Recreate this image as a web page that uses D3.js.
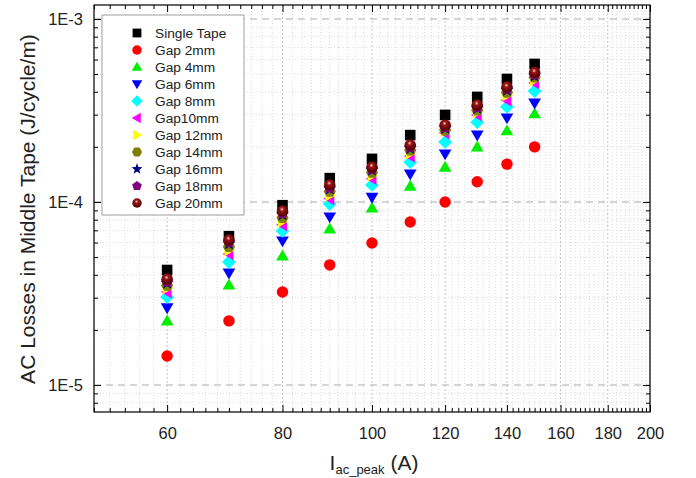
<!DOCTYPE html>
<html>
<head>
<meta charset="utf-8">
<script src="https://cdn.jsdelivr.net/npm/d3@7"></script>
<style>
  body { margin: 0; background: #fff; }
  svg { display: block; font-family: Arial, "Liberation Sans", sans-serif; }
</style>
</head>
<body>
<div id="chart"></div>
<script>
// current values (A)
const currents = [60, 70, 80, 90, 100, 110, 120, 130, 140, 150];

// AC losses (J/cycle/m)
const singleTape = [4.25e-5, 6.5e-5, 9.6e-5, 1.35e-4, 1.72e-4, 2.32e-4, 2.99e-4, 3.75e-4, 4.7e-4, 5.68e-4];
const gap2mm  = [1.44e-5, 2.24e-5, 3.22e-5, 4.53e-5, 5.97e-5, 7.78e-5, 1.0e-4, 1.29e-4, 1.61e-4, 2.0e-4];
const gap4mm  = [2.24e-5, 3.52e-5, 5.07e-5, 7.12e-5, 9.27e-5, 1.22e-4, 1.55e-4, 2.0e-4, 2.45e-4, 3.03e-4];
const gap6mm  = [2.64e-5, 4.09e-5, 6.12e-5, 8.28e-5, 1.06e-4, 1.42e-4, 1.83e-4, 2.32e-4, 2.88e-4, 3.47e-4];
const gap8mm  = [3.03e-5, 4.7e-5, 6.95e-5, 9.75e-5, 1.24e-4, 1.65e-4, 2.13e-4, 2.73e-4, 3.31e-4, 4.04e-4];
const gap10mm = [3.22e-5, 5.2e-5, 7.5e-5, 1.04e-4, 1.34e-4, 1.78e-4, 2.38e-4, 2.99e-4, 3.6e-4, 4.47e-4];
const gap12mm = [3.39e-5, 5.46e-5, 7.87e-5, 1.09e-4, 1.4e-4, 1.85e-4, 2.45e-4, 3.1e-4, 3.84e-4, 4.65e-4];
const gap14mm = [3.5e-5, 5.7e-5, 8.2e-5, 1.14e-4, 1.45e-4, 1.92e-4, 2.47e-4, 3.17e-4, 3.97e-4, 4.8e-4];
const gap16mm = [3.6e-5, 5.9e-5, 8.5e-5, 1.18e-4, 1.49e-4, 1.96e-4, 2.52e-4, 3.24e-4, 4.07e-4, 4.88e-4];
const gap18mm = [3.68e-5, 6.05e-5, 8.7e-5, 1.2e-4, 1.52e-4, 2.0e-4, 2.57e-4, 3.3e-4, 4.15e-4, 4.98e-4];
const gap20mm = [3.79e-5, 6.2e-5, 8.93e-5, 1.24e-4, 1.55e-4, 2.05e-4, 2.63e-4, 3.39e-4, 4.25e-4, 5.1e-4];

const seriesNames = ['Single Tape', 'Gap 2mm', 'Gap 4mm', 'Gap 6mm', 'Gap 8mm', 'Gap10mm',
                     'Gap 12mm', 'Gap 14mm', 'Gap 16mm', 'Gap 18mm', 'Gap 20mm'];
const seriesValues = [singleTape, gap2mm, gap4mm, gap6mm, gap8mm, gap10mm,
                      gap12mm, gap14mm, gap16mm, gap18mm, gap20mm];
const seriesColors = ['#000000', '#ff0000', '#00ee00', '#0000ff', '#00ffff', '#ff00ff',
                      '#ffff00', '#808000', '#000080', '#800080', 'url(#sphere)'];
const seriesShapes = ['square', 'circle', 'up', 'down', 'diamond', 'left',
                      'right', 'hexagon', 'star', 'pentagon', 'circle'];

const xTicks = [60, 80, 100, 120, 140, 160, 180, 200];
const yTicks = [1e-5, 1e-4, 1e-3];

const W = 696, H = 478;
const plot = { left: 94, right: 650, top: 5, bottom: 412 };

const svg = d3.select('#chart').append('svg').attr('width', W).attr('height', H);

const defs = svg.append('defs');
const grad = defs.append('radialGradient').attr('id', 'sphere')
    .attr('cx', '45%').attr('cy', '35%').attr('r', '60%');
grad.append('stop').attr('offset', '0%').attr('stop-color', '#f0c8c8');
grad.append('stop').attr('offset', '30%').attr('stop-color', '#981414');
grad.append('stop').attr('offset', '100%').attr('stop-color', '#520000');

const x = d3.scaleLog().domain([50, 200]).range([plot.left, plot.right]);
const y = d3.scaleLog().domain([7.12e-6, 1.192e-3]).range([plot.bottom, plot.top]);

// minor tick values
const xMinor = d3.range(50, 201, 2).filter(v => !xTicks.includes(v));
const yMinor = [];
[1e-6, 1e-5, 1e-4, 1e-3].forEach(d => {
    for (let m = 2; m <= 9; m++) {
        const v = m * d;
        if (v > y.domain()[0] && v < y.domain()[1]) yMinor.push(v);
    }
});

// grid
const grid = svg.append('g');
grid.selectAll('.gx').data(xMinor).join('line')
    .attr('x1', d => x(d)).attr('x2', d => x(d))
    .attr('y1', plot.top).attr('y2', plot.bottom)
    .attr('stroke', '#dcdcdc').attr('stroke-dasharray', '1,2');
grid.selectAll('.gxm').data(xTicks).join('line')
    .attr('x1', d => x(d)).attr('x2', d => x(d))
    .attr('y1', plot.top).attr('y2', plot.bottom)
    .attr('stroke', '#c4c4c4').attr('stroke-dasharray', '2,2');
grid.selectAll('.gy').data(yMinor).join('line')
    .attr('x1', plot.left).attr('x2', plot.right)
    .attr('y1', d => y(d)).attr('y2', d => y(d))
    .attr('stroke', '#dcdcdc').attr('stroke-dasharray', '1,2');
grid.selectAll('.gym').data(yTicks).join('line')
    .attr('x1', plot.left).attr('x2', plot.right)
    .attr('y1', d => y(d)).attr('y2', d => y(d))
    .attr('stroke', '#c8c8c8').attr('stroke-width', 1.4).attr('stroke-dasharray', '7,5');

// axes, ticks pointing inward
function styleAxis(g) {
    g.select('.domain').remove();
    g.selectAll('line').attr('stroke', '#000');
    g.selectAll('text').attr('fill', '#222').style('font-size', '16.5px');
}

svg.append('g').attr('transform', `translate(0,${plot.bottom})`)
    .call(d3.axisBottom(x).tickValues(xTicks).tickFormat(d3.format('d')).tickSizeInner(-7).tickSizeOuter(0).tickPadding(15))
    .call(styleAxis);
svg.append('g').attr('transform', `translate(0,${plot.bottom})`)
    .call(d3.axisBottom(x).tickValues(xMinor).tickFormat('').tickSizeInner(-4).tickSizeOuter(0))
    .call(styleAxis);
svg.append('g').attr('transform', `translate(0,${plot.top})`)
    .call(d3.axisTop(x).tickValues(xTicks).tickFormat('').tickSizeInner(-7).tickSizeOuter(0))
    .call(styleAxis);
svg.append('g').attr('transform', `translate(0,${plot.top})`)
    .call(d3.axisTop(x).tickValues(xMinor).tickFormat('').tickSizeInner(-4).tickSizeOuter(0))
    .call(styleAxis);

const yFmt = d => '1E' + Math.round(Math.log10(d));
svg.append('g').attr('transform', `translate(${plot.left},0)`)
    .call(d3.axisLeft(y).tickValues(yTicks).tickFormat(yFmt).tickSizeInner(-7).tickSizeOuter(0).tickPadding(11))
    .call(styleAxis);
svg.append('g').attr('transform', `translate(${plot.left},0)`)
    .call(d3.axisLeft(y).tickValues(yMinor).tickFormat('').tickSizeInner(-4).tickSizeOuter(0))
    .call(styleAxis);
svg.append('g').attr('transform', `translate(${plot.right},0)`)
    .call(d3.axisRight(y).tickValues(yTicks).tickFormat('').tickSizeInner(-7).tickSizeOuter(0))
    .call(styleAxis);
svg.append('g').attr('transform', `translate(${plot.right},0)`)
    .call(d3.axisRight(y).tickValues(yMinor).tickFormat('').tickSizeInner(-4).tickSizeOuter(0))
    .call(styleAxis);

svg.append('rect')
    .attr('x', plot.left).attr('y', plot.top)
    .attr('width', plot.right - plot.left).attr('height', plot.bottom - plot.top)
    .attr('fill', 'none').attr('stroke', '#000').attr('stroke-width', 1.2);

// marker shapes, s = half size
function poly(n, r, rot) {
    return d3.range(n).map(i => {
        const a = rot + i * 2 * Math.PI / n;
        return [r * Math.cos(a), r * Math.sin(a)];
    });
}
const closed = d3.line().curve(d3.curveLinearClosed);
function shapePath(type, s) {
    switch (type) {
        case 'square': return closed([[-s, -s], [s, -s], [s, s], [-s, s]]);
        case 'circle': { const p = d3.path(); p.arc(0, 0, s * 1.08, 0, 2 * Math.PI); return p.toString(); }
        case 'up': return closed([[0, -s * 1.2], [s * 1.2, s * 0.85], [-s * 1.2, s * 0.85]]);
        case 'down': return closed([[0, s * 1.2], [s * 1.2, -s * 0.85], [-s * 1.2, -s * 0.85]]);
        case 'left': return closed([[-s * 1.2, 0], [s * 0.85, -s * 1.2], [s * 0.85, s * 1.2]]);
        case 'right': return closed([[s * 1.2, 0], [-s * 0.85, -s * 1.2], [-s * 0.85, s * 1.2]]);
        case 'diamond': return closed([[0, -s * 1.3], [s * 1.3, 0], [0, s * 1.3], [-s * 1.3, 0]]);
        case 'hexagon': return closed(poly(6, s * 1.15, 0));
        case 'pentagon': return closed(poly(5, s * 1.15, -Math.PI / 2));
        case 'star': {
            const pts = d3.range(10).map(i => {
                const r = i % 2 ? s * 0.55 : s * 1.3;
                const a = -Math.PI / 2 + i * Math.PI / 5;
                return [r * Math.cos(a), r * Math.sin(a)];
            });
            return closed(pts);
        }
    }
}

// points
seriesValues.forEach((vals, k) => {
    svg.append('g').selectAll('path')
        .data(vals.map((v, i) => ({ x: currents[i], y: v })))
        .join('path')
        .attr('transform', d => `translate(${x(d.x)},${y(d.y)})`)
        .attr('d', shapePath(seriesShapes[k], 5.3))
        .attr('fill', seriesColors[k]);
});

// legend
const legend = svg.append('g');
legend.append('rect')
    .attr('x', 102).attr('y', 15).attr('width', 142).attr('height', 200)
    .attr('fill', '#fff').attr('stroke', '#a0a0a0').attr('stroke-width', 1);
seriesNames.forEach((name, k) => {
    const yy = 33 + k * 17;
    legend.append('path')
        .attr('transform', `translate(137,${yy})`)
        .attr('d', shapePath(seriesShapes[k], 4.4))
        .attr('fill', seriesColors[k]);
    legend.append('text')
        .attr('x', 155).attr('y', yy + 5)
        .style('font-size', '13.7px').attr('fill', '#222')
        .text(name);
});

// axis titles
svg.append('text')
    .attr('transform', 'translate(35,209) rotate(-90)')
    .attr('text-anchor', 'middle')
    .style('font-size', '21px').attr('fill', '#222')
    .text('AC Losses in Middle Tape (J/cycle/m)');

const xt = svg.append('text')
    .attr('x', 374).attr('y', 470)
    .attr('text-anchor', 'middle')
    .style('font-size', '21px').attr('fill', '#222');
xt.append('tspan').text('I');
xt.append('tspan').attr('dy', 4).style('font-size', '13px').text('ac_peak');
xt.append('tspan').attr('dy', -4).text(' (A)');
</script>
</body>
</html>
